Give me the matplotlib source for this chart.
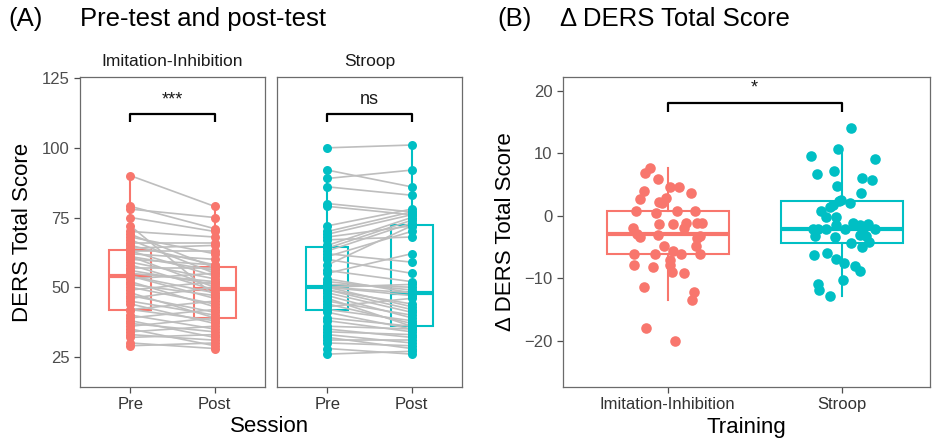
import matplotlib
matplotlib.use("Agg")
import matplotlib.pyplot as plt
import numpy as np

plt.rcParams["font.family"] = ["Liberation Sans", "DejaVu Sans"]

RED = "#F8766D"
TEAL = "#00BFC4"
LINE_GREY = "#BEBEBE"

sessions = ["Pre", "Post"]
training = ["Imitation-Inhibition", "Stroop"]

# paired DERS scores, one entry per participant
ii_pre = [29, 30, 32, 33, 34, 35, 36, 37, 38, 39, 40, 42, 42, 44, 45, 46, 47, 48, 49, 50, 51, 52, 53, 54,
          54, 55, 56, 57, 58, 59, 60, 61, 61, 62, 63, 63, 64, 65, 66, 67, 68, 69, 70, 72, 75, 78, 79, 90]
ii_post = [30, 28, 33, 31, 36, 29, 39, 34, 32, 42, 35, 38, 45, 37, 40, 50, 41, 39, 52, 44, 47, 43, 55, 46,
           48, 52, 51, 57, 49, 53, 58, 50, 56, 60, 54, 63, 65, 58, 66, 55, 62, 57, 68, 47, 70, 75, 71, 79]
st_pre = [26, 28, 30, 31, 32, 33, 34, 35, 36, 38, 39, 41, 42, 43, 44, 45, 46, 47, 48, 49, 49, 50, 50, 50,
          50, 51, 52, 53, 55, 56, 58, 60, 61, 62, 63, 64, 65, 67, 68, 69, 70, 72, 79, 80, 86, 89, 92, 100]
st_post = [27, 26, 29, 31, 28, 30, 33, 32, 35, 34, 36, 35, 38, 46, 37, 40, 36, 39, 41, 44, 42, 51, 43, 47,
           48, 50, 49, 48, 62, 52, 72, 55, 70, 59, 73, 74, 75, 68, 72, 76, 77, 78, 76, 77, 83, 92, 86, 101]

# change scores (post - pre) and the horizontal jitter seen in panel B
ii_delta = [7.7, 6.9, 5.9, 4.6, 4.6, 4.0, 3.6, 2.7, 2.9, 2.2, 2.0, 0.8, 0.5, 0.75, 0.8, -1.3, -1.3, -1.1,
            -1.1, -1.2, -2.0, -3.0, -3.4, -3.05, -2.0, -3.2, -3.6, -4.8, -4.8, -6.15, -6.2, -5.65, -6.1,
            -6.1, -7.9, -8.2, -7.1, -7.9, -9.0, -9.2, -11.4, -12.2, -13.4, -17.9, -20.0]
ii_jitter = [-0.103, -0.128, -0.055, 0.015, 0.063, -0.134, 0.134, -0.156, -0.008, -0.048, -0.032, -0.179,
             -0.065, 0.053, 0.158, -0.048, 0.034, 0.107, 0.168, 0.197, -0.198, -0.176, -0.156, -0.057,
             0.095, 0.187, 0.168, 0.162, -0.019, -0.191, -0.071, 0.034, 0.076, 0.187, -0.191, -0.084,
             0.015, 0.015, 0.025, 0.095, -0.137, 0.149, 0.143, -0.124, 0.044]
st_delta = [14.1, 10.7, 9.6, 9.0, 7.2, 6.6, 6.0, 5.7, 4.8, 3.6, 2.5, 2.1, 2.4, 1.7, 0.8, 1.4, -0.2, -0.2,
            -2.2, -2.2, -2.2, -1.5, -2.2, -1.2, -1.5, -2.1, -1.3, -2.2, -3.2, -3.4, -4.4, -3.1, -3.2,
            -5.0, -4.2, -6.3, -5.9, -7.0, -7.5, -8.1, -8.8, -10.3, -11.0, -11.9, -12.9]
st_jitter = [0.050, -0.021, -0.179, 0.191, -0.044, -0.141, 0.113, 0.176, -0.025, 0.109, -0.006, 0.046,
             -0.015, -0.050, -0.120, -0.069, -0.088, -0.034, -0.164, -0.135, -0.088, -0.031, 0.017, 0.065,
             0.103, 0.122, 0.151, 0.189, -0.155, -0.040, 0.055, 0.103, 0.141, 0.113, 0.156, -0.160,
             -0.084, -0.034, 0.011, 0.074, 0.103, 0.004, -0.135, -0.130, -0.069]

sig_a = ["***", "ns"]
sig_b = "*"

W, H = 938, 441
fig = plt.figure(figsize=(W / 100, H / 100), dpi=100)


def px_axes(x0, y0, x1, y1):
    return fig.add_axes([x0 / W, 1 - y1 / H, (x1 - x0) / W, (y1 - y0) / H])


def style(ax):
    for s in ax.spines.values():
        s.set_color("#6b6b6b")
        s.set_linewidth(0.9)
    ax.tick_params(colors="#4d4d4d", labelsize=12, length=4, width=0.9)
    ax.tick_params(axis="x", labelcolor="#333333")
    ax.tick_params(axis="y", labelcolor="#4d4d4d")


def draw_box(ax, data, pos, width, color, lw=1.5, med_lw=3.0):
    ax.boxplot(data, positions=pos, widths=width, showfliers=False, showcaps=False,
               patch_artist=True, manage_ticks=False,
               boxprops=dict(facecolor="none", edgecolor=color, linewidth=lw),
               medianprops=dict(color=color, linewidth=med_lw),
               whiskerprops=dict(color=color, linewidth=lw), zorder=1)


def bracket(ax, x0, x1, y_top, y_tip, label, label_y, fs):
    ax.plot([x0, x0, x1, x1], [y_tip, y_top, y_top, y_tip], color="black", lw=1.6,
            solid_capstyle="butt", zorder=5)
    ax.text((x0 + x1) / 2, label_y, label, ha="center", va="center", fontsize=fs, color="#1a1a1a")


# ---------------- panel A ----------------
facets = [
    (training[0], ii_pre, ii_post, RED, (80, 265), sig_a[0]),
    (training[1], st_pre, st_post, TEAL, (277, 462), sig_a[1]),
]
for i, (name, pre, post, col, (x0, x1), sig) in enumerate(facets):
    ax = px_axes(x0, 77, x1, 387)
    draw_box(ax, [pre, post], [1, 2], 0.5, col)
    for a, b in zip(pre, post):
        ax.plot([1, 2], [a, b], color=LINE_GREY, lw=1.2, zorder=2)
    ax.scatter(np.ones(len(pre)), pre, s=42, color=col, zorder=3, linewidths=0)
    ax.scatter(np.full(len(post), 2), post, s=42, color=col, zorder=3, linewidths=0)
    ax.set_xlim(0.4, 2.6)
    ax.set_ylim(14.2, 125.4)
    ax.set_xticks([1, 2])
    ax.set_xticklabels(sessions)
    ax.set_yticks([25, 50, 75, 100, 125])
    if i == 0:
        ax.set_ylabel("DERS Total Score", fontsize=16, labelpad=6)
    else:
        ax.tick_params(axis="y", left=False, labelleft=False)
    style(ax)
    if sig == "ns":
        bracket(ax, 1, 2, 112.3, 109.3, sig, 117.3, 13)
    else:
        bracket(ax, 1, 2, 112.3, 109.3, sig, 117.0, 13)
    ax.set_title(name, fontsize=12.5, color="#1a1a1a", pad=8)

fig.text(270 / W, 1 - 427 / H, "Session", ha="center", va="center", fontsize=16)

# ---------------- panel B ----------------
axb = px_axes(563, 77, 930, 387)
draw_box(axb, [ii_delta], [1], 0.7, RED)
draw_box(axb, [st_delta], [2], 0.7, TEAL)
axb.scatter(1 + np.array(ii_jitter), ii_delta, s=58, color=RED, zorder=3, linewidths=0)
axb.scatter(2 + np.array(st_jitter), st_delta, s=58, color=TEAL, zorder=3, linewidths=0)
axb.set_xlim(0.4, 2.506)
axb.set_ylim(-27.4, 22.2)
axb.set_xticks([1, 2])
axb.set_xticklabels(training)
axb.set_yticks([-20, -10, 0, 10, 20])
axb.set_ylabel("\u0394 DERS Total Score", fontsize=16, labelpad=6)
axb.set_xlabel("Training", fontsize=16, labelpad=3)
style(axb)
bracket(axb, 1, 2, 18.0, 16.6, sig_b, 20.5, 13)

# panel titles
fig.text(8 / W, 1 - 19 / H, "(A)", fontsize=18.5, va="center", ha="left")
fig.text(80 / W, 1 - 19 / H, "Pre-test and post-test", fontsize=18.5, va="center", ha="left")
fig.text(497 / W, 1 - 19 / H, "(B)", fontsize=18.5, va="center", ha="left")
fig.text(560 / W, 1 - 19 / H, "\u0394 DERS Total Score", fontsize=18.5, va="center", ha="left")

fig.savefig("out.png", dpi=100)
